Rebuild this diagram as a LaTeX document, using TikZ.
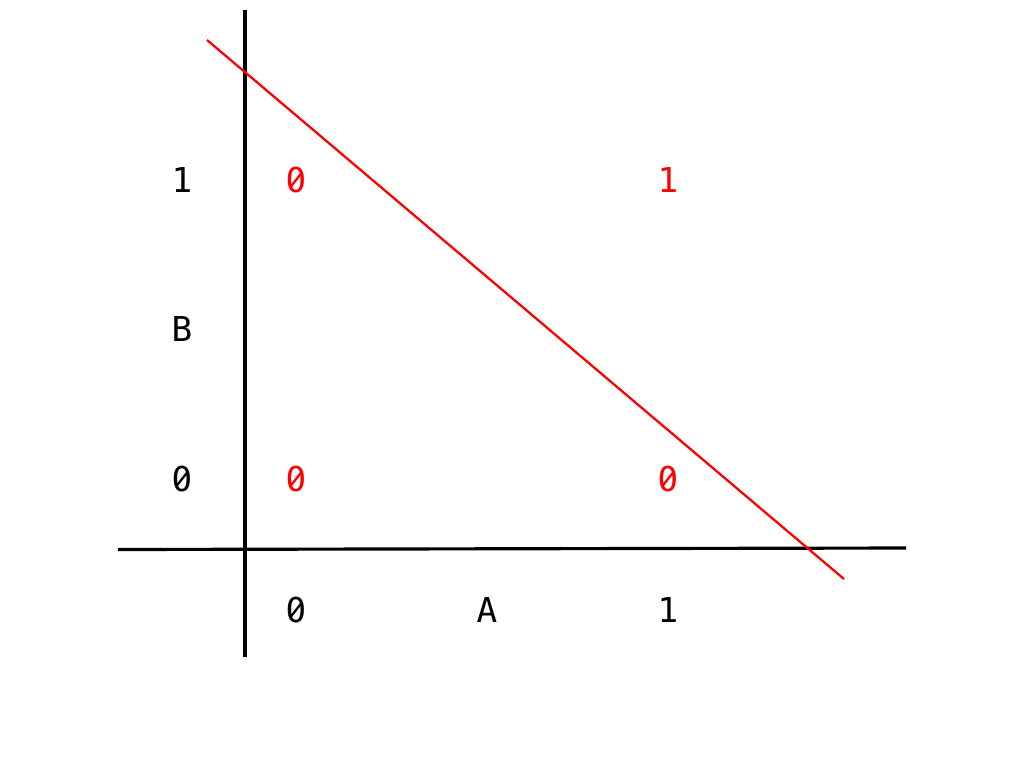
\documentclass[tikz,border=0pt]{standalone}
\usepackage{fontspec}
\setmonofont{DejaVu Sans Mono}
\usetikzlibrary{calc}
\tikzset{
	lbl/.style={font=\ttfamily\fontsize{19.5}{20}\selectfont, inner sep=0pt},
	val/.style={lbl, text=red},
	axis/.style={line width=1.8pt, color=black},
	cut/.style={line width=1.3pt, color=red}
}

\begin{document}
\begin{tikzpicture}[x=0.02cm, y=-0.02cm]
			%%%%% START %%%%%
			\useasboundingbox (0, 0) rectangle (1024, 768);
			
			\draw[axis] (245, 10) -- (245, 657);
			\draw[axis] (118, 549.5) -- (906, 548);
			
			\draw[cut] (207, 40) -- (844, 579);
			
			\node[lbl] (b1) at (182, 180) {1};
			\node[lbl] (bname) at (182, 329) {B};
			\node[lbl] (b0) at (182, 479) {0};
			
			\node[lbl] (a0) at (296, 610) {0};
			\node[lbl] (aname) at (487, 610) {A};
			\node[lbl] (a1) at (668, 610) {1};
			
			\node[val] (v01) at (296, 180) {0};
			\node[val] (v11) at (668, 180) {1};
			\node[val] (v00) at (296, 479) {0};
			\node[val] (v10) at (668, 479) {0};
			
			% slashed zeros
			\foreach \z/\c in {b0/black, a0/black, v01/red, v00/red, v10/red} {
				\fill[white] (\z.center) ellipse (1.8pt and 2.6pt);
				\draw[line width=1.3pt, \c] ($(\z.center)+(-5.5,7)$) -- ($(\z.center)+(5.5,-7)$);
			}
			%%%%% END %%%%%
		\end{tikzpicture}
\end{document}
